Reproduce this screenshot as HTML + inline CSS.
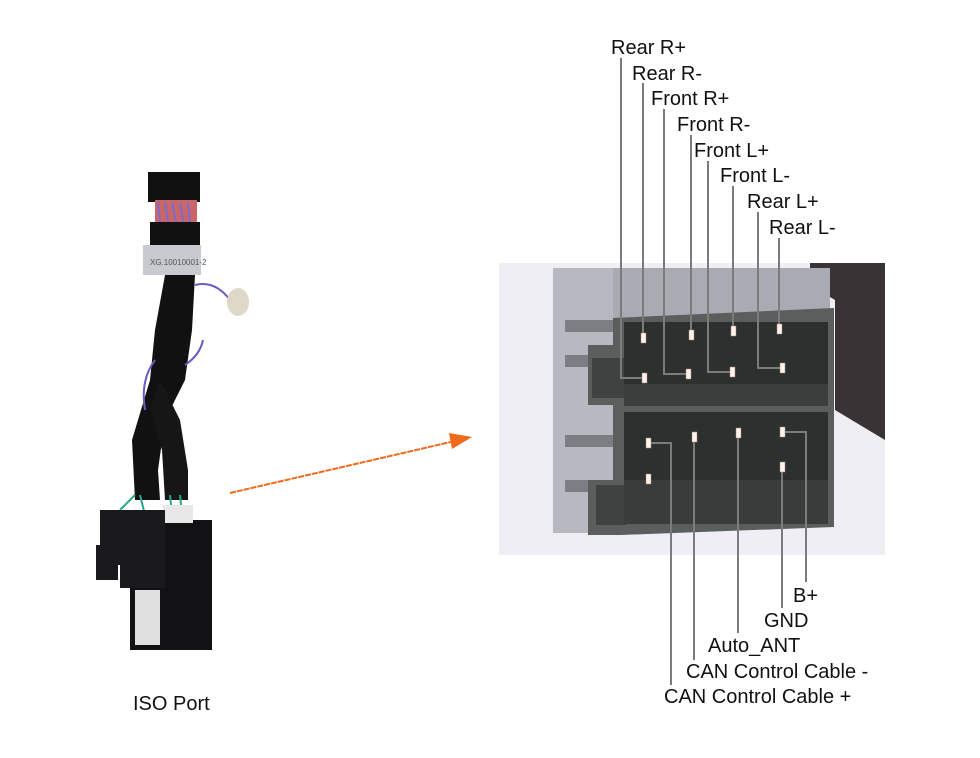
<!DOCTYPE html>
<html><head><meta charset="utf-8"><style>
html,body{margin:0;padding:0;background:#fff;}
svg{display:block;}
text{font-family:"Liberation Sans",sans-serif;font-size:20px;fill:#111;}
</style></head><body>
<svg width="980" height="758" viewBox="0 0 980 758" xmlns="http://www.w3.org/2000/svg">
<!-- harness -->
<rect x="148" y="172" width="52" height="30" fill="#111"/>
<rect x="155" y="200" width="42" height="22" fill="#c66"/>
<path d="M158 202 L160 222 M165 202 L168 222 M172 202 L176 222 M180 202 L183 222 M188 202 L190 222" stroke="#7a6bd0" stroke-width="2"/>
<rect x="150" y="222" width="50" height="25" fill="#111"/>
<rect x="143" y="245" width="58" height="30" fill="#c8cad0"/>
<text x="150" y="265" style="font-size:8px;fill:#555">XG.10010001-2</text>
<path d="M165 275 L195 275 L192 330 L185 380 L165 420 L158 470 L160 500 L135 500 L132 440 L150 380 L155 330 Z" fill="#111"/>
<path d="M160 380 L180 420 L188 470 L188 500 L165 500 L162 450 L150 410 Z" fill="#161616"/>
<path d="M195 285 Q215 280 230 300" stroke="#6a5ac0" stroke-width="2" fill="none"/>
<ellipse cx="238" cy="302" rx="11" ry="14" fill="#ddd8c8"/>
<path d="M185 365 Q200 355 203 340" stroke="#6a5ac0" stroke-width="2" fill="none"/>
<path d="M155 360 Q140 380 145 410" stroke="#6a5ac0" stroke-width="2" fill="none"/>
<path d="M120 510 L135 495 M140 495 L145 515 M170 495 L172 515 M180 495 L182 515" stroke="#2a8" stroke-width="2"/>
<rect x="130" y="520" width="82" height="130" fill="#121214"/>
<rect x="163" y="505" width="30" height="18" fill="#e8e8e8"/>
<rect x="135" y="590" width="25" height="55" fill="#e0e0e0"/>
<rect x="100" y="510" width="65" height="55" fill="#1a1a1c"/>
<rect x="96" y="545" width="22" height="35" fill="#1a1a1c"/>
<rect x="120" y="560" width="45" height="28" fill="#1a1a1c"/>
<text x="133" y="710">ISO Port</text>
<!-- arrow -->
<line x1="230" y1="493" x2="455" y2="441" stroke="#f06a1c" stroke-width="2" stroke-dasharray="6,1"/>
<polygon points="472,437 449,433 452,449" fill="#f06a1c"/>
<!-- photo -->
<rect x="499" y="263" width="386" height="292" fill="#eeeef4"/>
<polygon points="810,263 885,263 885,440 835,410 835,300 810,285" fill="#3a3336"/>
<rect x="553" y="268" width="277" height="50" fill="#a9aab2"/>
<rect x="553" y="268" width="60" height="265" fill="#b8b9c0"/>
<rect x="565" y="320" width="48" height="12" fill="#7c7e84"/>
<rect x="565" y="355" width="48" height="12" fill="#7c7e84"/>
<rect x="565" y="435" width="48" height="12" fill="#7c7e84"/>
<rect x="565" y="480" width="48" height="12" fill="#7c7e84"/>
<polygon points="613,318 834,308 834,527 620,535 588,535 588,480 613,480 613,405 588,405 588,345 613,345" fill="#5a5e5c"/>
<rect x="624" y="322" width="204" height="82" fill="#2c302e"/>
<rect x="592" y="358" width="32" height="40" fill="#3e4240"/>
<rect x="624" y="412" width="204" height="110" fill="#2c302e"/>
<rect x="596" y="485" width="30" height="40" fill="#3e4240"/>
<rect x="624" y="384" width="204" height="22" fill="#3a3e3c"/>
<rect x="624" y="480" width="204" height="44" fill="#383c3a"/>
<!-- leader lines -->
<g stroke="#7b7b7b" stroke-width="2" fill="none">
<polyline points="621,58 621,378 644,378"/>
<polyline points="643,83 643,340"/>
<polyline points="664,109 664,374 688,374"/>
<polyline points="691,135 691,337"/>
<polyline points="708,161 708,372 732,372"/>
<polyline points="733,186 733,331"/>
<polyline points="758,212 758,368 781,368"/>
<polyline points="779,238 779,329"/>
<polyline points="782,432 806,432 806,582"/>
<polyline points="782,467 782,608"/>
<polyline points="738,432 738,633"/>
<polyline points="694,437 694,660"/>
<polyline points="648,443 671,443 671,685"/>
</g>
<g fill="#fff5ee" stroke="#b08070" stroke-width="0.5">
<rect x="641" y="333" width="5" height="10"/><rect x="642" y="373" width="5" height="10"/>
<rect x="689" y="330" width="5" height="10"/><rect x="686" y="369" width="5" height="10"/>
<rect x="731" y="326" width="5" height="10"/><rect x="730" y="367" width="5" height="10"/>
<rect x="777" y="324" width="5" height="10"/><rect x="780" y="363" width="5" height="10"/>
<rect x="646" y="438" width="5" height="10"/><rect x="646" y="474" width="5" height="10"/>
<rect x="692" y="432" width="5" height="10"/><rect x="736" y="428" width="5" height="10"/>
<rect x="780" y="427" width="5" height="10"/><rect x="780" y="462" width="5" height="10"/>
</g>
<text x="611" y="54">Rear R+</text>
<text x="632" y="80">Rear R-</text>
<text x="651" y="105">Front R+</text>
<text x="677" y="131">Front R-</text>
<text x="694" y="157">Front L+</text>
<text x="720" y="182">Front L-</text>
<text x="747" y="208">Rear L+</text>
<text x="769" y="234">Rear L-</text>
<text x="793" y="602">B+</text>
<text x="764" y="627">GND</text>
<text x="708" y="652">Auto_ANT</text>
<text x="686" y="678">CAN Control Cable -</text>
<text x="664" y="703">CAN Control Cable +</text>
</svg>
</body></html>
